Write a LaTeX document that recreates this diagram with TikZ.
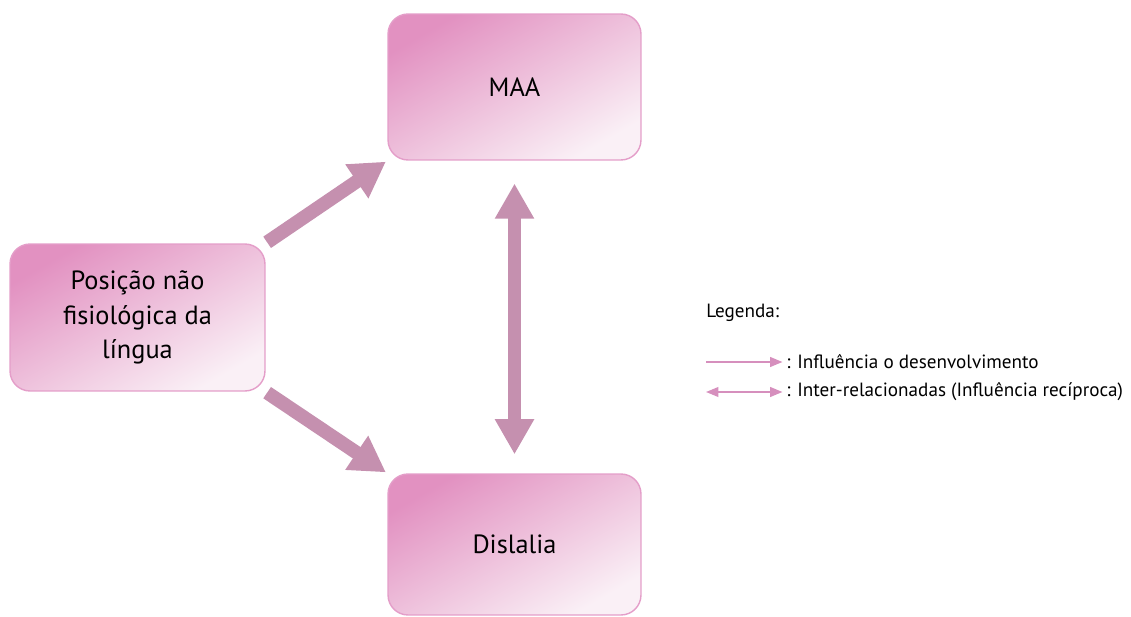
\documentclass[tikz,border=0pt]{standalone}
\usepackage{fontspec}
\setmainfont{PT Sans}
\usetikzlibrary{arrows.meta}
\definecolor{boxdark}{RGB}{226,145,193}
\definecolor{boxlight}{RGB}{250,240,246}
\definecolor{boxborder}{RGB}{228,158,201}
\definecolor{fatcol}{RGB}{197,144,175}
\definecolor{legcol}{RGB}{214,143,189}
\tikzset{
  box/.style={rounded corners=0.4cm, draw=boxborder, line width=0.8pt,
    top color=boxdark, bottom color=boxlight, shading angle=30,
    align=center, inner sep=0pt, font=\fontsize{15}{19.6}\selectfont},
  fat/.style={draw=fatcol, line width=7.8pt,
    -{Triangle[width=22pt,length=20pt]}},
  fatboth/.style={draw=fatcol, line width=7.4pt,
    {Triangle[width=21pt,length=20pt]}-{Triangle[width=21pt,length=20pt]}},
  legtext/.style={font=\fontsize{10.9}{12}\selectfont, inner sep=0pt, anchor=west},
  legone/.style={draw=legcol, line width=1pt, -{Triangle[width=5.5pt,length=7pt]}},
  legtwo/.style={draw=legcol, line width=1pt, {Triangle[width=5.5pt,length=7pt]}-{Triangle[width=5.5pt,length=7pt]}}
}
\begin{document}
\begin{tikzpicture}[x=0.02cm, y=-0.02cm]
\useasboundingbox (0,0) rectangle (1131,617);
\node[box, minimum width=5.06cm, minimum height=2.92cm] (maa) at (514.5,87) {MAA};
\node[box, minimum width=5.10cm, minimum height=2.94cm] (pos) at (137.5,317.5) {Posição não\\fisiológica da\\língua};
\node[box, minimum width=5.06cm, minimum height=2.82cm] (dis) at (514.5,544.5) {Dislalia};
\draw[fat, shorten <=1pt, shorten >=1pt] (pos.north east) -- (maa.south west);
\draw[fat, shorten <=1pt, shorten >=1pt] (pos.south east) -- (dis.north west);
\draw[fatboth, shorten <=13pt, shorten >=10.8pt] (maa.south) -- (dis.north);
\node[legtext] (leg) at (706,313) {Legenda:};
\coordinate (l1) at (706,362);
\coordinate (l2) at (706,392);
\node[legtext] (t1) at (786,362) {: Influência o desenvolvimento};
\node[legtext] (t2) at (786,392) {: Inter-relacionadas (Influência recíproca)};
\draw[legone, shorten >=2pt] (l1) -- (t1.west);
\draw[legtwo, shorten >=2pt] (l2) -- (t2.west);
\end{tikzpicture}
\end{document}
